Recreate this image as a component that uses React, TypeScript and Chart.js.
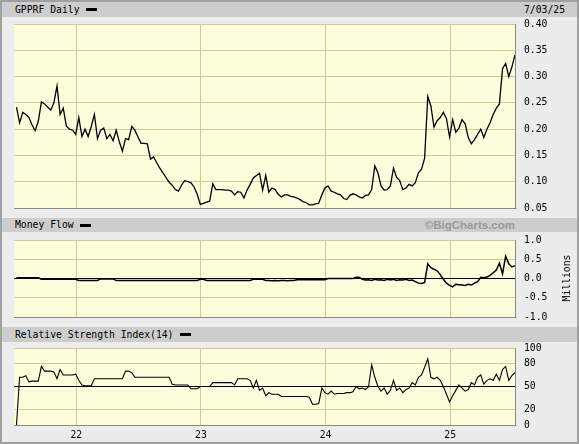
import React, { useEffect, useRef } from "react";
import { Chart, registerables } from "chart.js";

Chart.register(...registerables);

// ---------- data ----------
const startYear = 21.52; // first sample (decimal year, '21 = 2021)
const stepYear = 0.025; // spacing between samples
const xMin = 21.5;
const xMax = 25.52;
const yearTicks = [22, 23, 24, 25];

const priceVals = [
  0.242, 0.212, 0.232, 0.228, 0.222, 0.208, 0.197, 0.215, 0.252, 0.248,
  0.242, 0.236, 0.25, 0.282, 0.228, 0.24, 0.206, 0.2, 0.198, 0.19,
  0.222, 0.186, 0.2, 0.186, 0.205, 0.228, 0.182, 0.198, 0.202, 0.182,
  0.19, 0.178, 0.198, 0.176, 0.158, 0.182, 0.18, 0.205, 0.198, 0.185,
  0.173, 0.173, 0.172, 0.143, 0.147, 0.136, 0.126, 0.117, 0.108, 0.099,
  0.093, 0.085, 0.082, 0.094, 0.102, 0.1, 0.098, 0.09, 0.076, 0.057,
  0.059, 0.061, 0.063, 0.096, 0.085, 0.085, 0.085, 0.084, 0.084, 0.082,
  0.075, 0.081, 0.08, 0.069, 0.084, 0.095, 0.107, 0.112, 0.116, 0.084,
  0.112, 0.08, 0.088, 0.085, 0.076, 0.071, 0.075, 0.075, 0.072, 0.071,
  0.069, 0.066, 0.062, 0.06, 0.056, 0.056, 0.058, 0.059, 0.075, 0.088,
  0.092, 0.082, 0.08, 0.077, 0.075, 0.068, 0.066, 0.074, 0.077, 0.075,
  0.071, 0.069, 0.074, 0.075, 0.085, 0.13, 0.117, 0.092, 0.084, 0.085,
  0.092, 0.126, 0.108, 0.102, 0.085, 0.088, 0.095, 0.092, 0.098, 0.117,
  0.124, 0.145, 0.262, 0.244, 0.204, 0.216, 0.222, 0.232, 0.22, 0.185,
  0.218, 0.194, 0.202, 0.218, 0.21, 0.184, 0.172, 0.18, 0.19, 0.2,
  0.184, 0.2, 0.212, 0.228, 0.24, 0.248, 0.315, 0.325, 0.3, 0.318,
  0.341,
];

const moneyFlowVals = [
  0.02, 0.02, 0.02, 0.02, 0.02, 0.02, 0.02, 0.02, -0.02, -0.02,
  -0.02, -0.02, -0.02, -0.02, -0.02, -0.02, -0.02, -0.02, -0.02, -0.02,
  -0.05, -0.05, -0.05, -0.05, -0.05, -0.05, -0.05, -0.01, -0.01, -0.01,
  -0.01, -0.01, -0.05, -0.05, -0.05, -0.05, -0.05, -0.05, -0.05, -0.05,
  -0.05, -0.05, -0.05, -0.05, -0.05, -0.05, -0.05, -0.05, -0.05, -0.05,
  -0.05, -0.05, -0.05, -0.05, -0.05, -0.05, -0.05, -0.05, -0.05, -0.02,
  -0.02, -0.05, -0.05, -0.05, -0.05, -0.05, -0.05, -0.05, -0.05, -0.05,
  -0.05, -0.05, -0.05, -0.05, -0.05, -0.05, -0.02, -0.02, -0.02, -0.02,
  -0.05, -0.05, -0.06, -0.05, -0.06, -0.05, -0.05, -0.06, -0.05, -0.05,
  -0.03, -0.03, -0.03, -0.03, -0.03, -0.03, -0.03, -0.03, -0.03, -0.03,
  0, 0, 0, 0, 0, 0, 0, 0, 0, 0.03,
  0.03, -0.02, -0.04, -0.03, -0.05, -0.02, -0.04, -0.03, -0.05, -0.02,
  -0.04, -0.02, -0.05, -0.03, -0.04, -0.02, -0.05, -0.04, -0.08, -0.12,
  -0.13, -0.1, 0.38, 0.28, 0.24, 0.2, 0.1, -0.02, -0.12, -0.18,
  -0.22, -0.15, -0.16, -0.17, -0.18, -0.15, -0.17, -0.12, -0.08, 0.03,
  0.02, 0.04, 0.08, 0.15, 0.22, 0.4, 0.12, 0.58, 0.38, 0.3,
  0.33,
];

const rsiVals = [
  0, 62, 62, 64, 56, 57, 57, 57, 76, 70,
  70, 70, 69, 60, 72, 65, 65, 65, 65, 66,
  58, 52, 51, 51, 51, 60, 60, 60, 60, 60,
  60, 60, 60, 60, 60, 70, 70, 68, 62, 62,
  62, 62, 62, 62, 62, 62, 62, 62, 62, 62,
  53, 52, 52, 52, 52, 52, 47, 47, 47, 50,
  50, 50, 50, 55, 55, 55, 55, 55, 55, 55,
  52, 60, 60, 60, 60, 58, 48, 58, 45, 48,
  38, 42, 40, 40, 40, 37, 37, 37, 37, 37,
  37, 37, 37, 37, 36, 27, 27, 28, 48, 42,
  40, 44, 40, 41, 41, 41, 42, 42, 43, 50,
  47, 48, 46, 50, 78, 62, 50, 44, 48, 40,
  45, 58, 45, 48, 42, 46, 48, 55, 52, 62,
  65, 75, 86, 62, 60, 62, 58, 50, 40, 30,
  38, 45, 52, 48, 44, 46, 55, 52, 62, 65,
  53, 58, 60, 58, 66, 58, 72, 76, 58, 64,
  68,
];

const rsiTicks = [0, 20, 50, 80, 100];

// ---------- styling ----------
const MONO = "'DejaVu Sans Mono', monospace";
const GRID = "#cccc99";
const FONT_SIZE = 9.75;

function makePattern(ctx: CanvasRenderingContext2D) {
  const c = document.createElement("canvas");
  c.width = 2;
  c.height = 2;
  const g = c.getContext("2d")!;
  g.fillStyle = "#ffffe8";
  g.fillRect(0, 0, 2, 2);
  g.fillStyle = "#fbfbcf";
  g.fillRect(0, 0, 1, 1);
  g.fillRect(1, 1, 1, 1);
  return ctx.createPattern(c, "repeat");
}

const framePlugin = {
  id: "frame",
  beforeDraw(chart: any) {
    const { ctx, chartArea: a } = chart;
    ctx.save();
    ctx.fillStyle = makePattern(ctx) || "#ffffdd";
    ctx.fillRect(a.left, a.top, a.right - a.left, a.bottom - a.top);
    ctx.restore();
  },
  afterDraw(chart: any) {
    const { ctx, chartArea: a } = chart;
    ctx.save();
    ctx.strokeStyle = "#8a8a8a";
    ctx.lineWidth = 1;
    ctx.beginPath();
    const b = Math.round(a.bottom) + 0.5;
    const r = Math.round(a.right) + 0.5;
    ctx.moveTo(a.left, b);
    ctx.lineTo(r + 1, b);
    ctx.moveTo(r, a.top);
    ctx.lineTo(r, b);
    ctx.stroke();
    ctx.restore();
  },
};

type PanelOpts = {
  values: number[];
  yMin: number;
  yMax: number;
  yStep?: number;
  yList?: number[];
  fmt: (v: number) => string;
  special?: number;
  showX: boolean;
  xHeight: number;
  lineWidth: number;
};

function buildConfig(o: PanelOpts): any {
  const pts = o.values.map((v, i) => ({ x: startYear + i * stepYear, y: v }));
  return {
    type: "line",
    data: {
      datasets: [
        {
          data: pts,
          borderColor: "#000",
          borderWidth: o.lineWidth,
          pointRadius: 0,
          tension: 0,
          fill: false,
        },
      ],
    },
    options: {
      animation: false,
      responsive: false,
      maintainAspectRatio: false,
      layout: { padding: { left: 14, right: 0, top: 7, bottom: 0 } },
      plugins: { legend: { display: false }, tooltip: { enabled: false } },
      scales: {
        x: {
          type: "linear",
          min: xMin,
          max: xMax,
          afterBuildTicks: (axis: any) => {
            axis.ticks = yearTicks.map((value) => ({ value }));
          },
          afterFit: (s: any) => {
            s.height = o.xHeight;
            s.paddingLeft = 0;
            s.paddingRight = 0;
          },
          ticks: {
            display: o.showX,
            autoSkip: false,
            maxRotation: 0,
            padding: 5,
            color: "#000",
            font: { family: MONO, size: FONT_SIZE },
            callback: (v: any) => String(v),
          },
          grid: { color: GRID, drawTicks: false, lineWidth: 1 },
          border: { display: false },
        },
        y: {
          position: "right",
          min: o.yMin,
          max: o.yMax,
          afterBuildTicks: o.yList
            ? (axis: any) => {
                axis.ticks = o.yList!.map((value) => ({ value }));
              }
            : undefined,
          afterFit: (s: any) => {
            s.width = 64;
            s.paddingTop = 0;
            s.paddingBottom = 0;
          },
          ticks: {
            stepSize: o.yStep,
            padding: 9,
            color: "#000",
            font: { family: MONO, size: FONT_SIZE },
            callback: (v: any) => o.fmt(Number(v)),
          },
          grid: {
            drawTicks: false,
            lineWidth: 1,
            color: (c: any) =>
              o.special !== undefined && c.tick && Math.abs(c.tick.value - o.special) < 1e-9
                ? "#000"
                : GRID,
          },
          border: { display: false },
        },
      },
    },
    plugins: [framePlugin],
  };
}

function Panel(props: { top: number; height: number; opts: PanelOpts }) {
  const ref = useRef<HTMLCanvasElement | null>(null);
  useEffect(() => {
    if (!ref.current) return;
    const chart = new Chart(ref.current, buildConfig(props.opts));
    return () => chart.destroy();
  }, []);
  return (
    <canvas
      ref={ref}
      width={579}
      height={props.height}
      style={{ position: "absolute", left: 0, top: props.top, width: 579, height: props.height }}
    />
  );
}

function Header(props: { top: number; height: number; title: string; right?: React.ReactNode }) {
  return (
    <div
      style={{
        position: "absolute",
        left: 2,
        top: props.top,
        width: 575,
        height: props.height,
        background: "#cdcdcd",
      }}
    >
      <div
        style={{
          position: "absolute",
          left: 13,
          top: 0,
          height: props.height,
          lineHeight: props.height + "px",
          fontFamily: MONO,
          fontSize: FONT_SIZE,
          color: "#000",
          whiteSpace: "pre",
          display: "flex",
          alignItems: "center",
        }}
      >
        <span>{props.title}</span>
        <span
          style={{
            display: "inline-block",
            width: 11,
            height: 3,
            background: "#000",
            marginLeft: 6,
          }}
        />
      </div>
      {props.right}
    </div>
  );
}

export default function App() {
  return (
    <div
      style={{
        position: "absolute",
        left: 0,
        top: 0,
        width: 579,
        height: 444,
        background: "#ececec",
        boxShadow: "inset 0 0 0 2px #a0a0a0",
        overflow: "hidden",
      }}
    >
      <Header
        top={2}
        height={15}
        title="GPPRF Daily"
        right={
          <div
            style={{
              position: "absolute",
              right: 12,
              top: 0,
              lineHeight: "15px",
              fontFamily: MONO,
              fontSize: FONT_SIZE,
              color: "#000",
            }}
          >
            7/03/25
          </div>
        }
      />
      <Header
        top={218}
        height={14}
        title="Money Flow"
        right={
          <div
            style={{
              position: "absolute",
              right: 62,
              top: 0,
              lineHeight: "14px",
              fontFamily: "'Liberation Sans', Arial, sans-serif",
              fontWeight: "bold",
              fontSize: 11.5,
              color: "#9a9a9a",
            }}
          >
            ©BigCharts.com
          </div>
        }
      />
      <Header top={327} height={15} title="Relative Strength Index(14)" />

      <Panel
        top={17}
        height={199}
        opts={{
          values: priceVals,
          yMin: 0.05,
          yMax: 0.4,
          yStep: 0.05,
          fmt: (v) => v.toFixed(2),
          showX: false,
          xHeight: 8,
          lineWidth: 1.3,
        }}
      />
      <Panel
        top={233}
        height={92}
        opts={{
          values: moneyFlowVals,
          yMin: -1,
          yMax: 1,
          yStep: 0.5,
          fmt: (v) => v.toFixed(1),
          special: 0,
          showX: false,
          xHeight: 8,
          lineWidth: 1.5,
        }}
      />
      <Panel
        top={341}
        height={100}
        opts={{
          values: rsiVals,
          yMin: 0,
          yMax: 100,
          yList: rsiTicks,
          fmt: (v) => String(v),
          special: 50,
          showX: true,
          xHeight: 16,
          lineWidth: 1.1,
        }}
      />

      <div
        style={{
          position: "absolute",
          left: 567 - 30,
          top: 278 - 6,
          width: 60,
          height: 12,
          lineHeight: "12px",
          textAlign: "center",
          fontFamily: MONO,
          fontSize: FONT_SIZE,
          color: "#000",
          transform: "rotate(-90deg)",
          transformOrigin: "30px 6px",
        }}
      >
        Millions
      </div>
    </div>
  );
}
